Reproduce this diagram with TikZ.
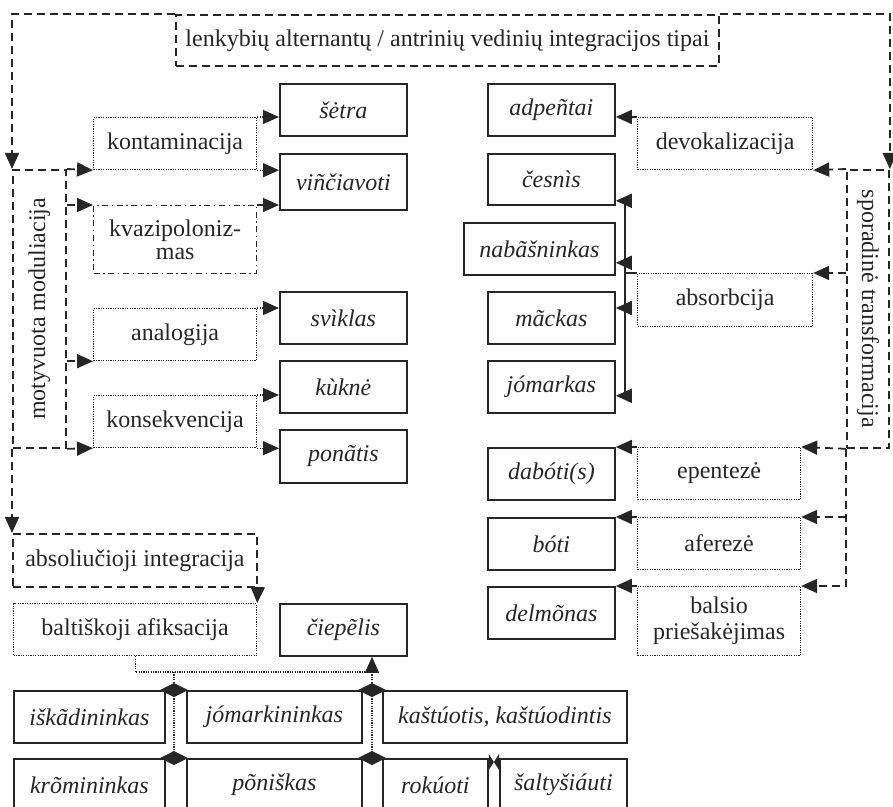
\documentclass[tikz,border=0pt,12pt]{standalone}
\usepackage{fontspec}
\setmainfont{Liberation Serif}
\usepackage{graphicx}
\usetikzlibrary{arrows.meta,shapes.geometric,calc}

\tikzset{
  dotbox/.style={line width=0.6pt, dash pattern=on 0.6pt off 0.6pt},
  dashbox/.style={line width=0.9pt, dash pattern=on 4pt off 2.5pt},
  ddot/.style={line width=0.7pt, dash pattern=on 3pt off 1.8pt on 0.7pt off 1.8pt},
  word/.style={draw, line width=0.9pt, anchor=north west, minimum width=63.5pt,
    minimum height=26pt, inner sep=1pt, font=\itshape},
  proc/.style={draw, dotbox, anchor=north west, minimum width=81.5pt,
    minimum height=26pt, inner sep=1pt, align=center},
  grp/.style={draw, dashbox, anchor=north west, inner sep=0pt},
  arr/.style={-{Triangle[length=8pt,width=7pt]}},
  dia/.style={diamond, fill=black!85, inner sep=0pt, outer sep=0pt,
    minimum width=14pt, minimum height=7pt},
}

\begin{document}
\begin{tikzpicture}[x=0.5pt, y=-0.5pt, black!85, line width=0.9pt]
  \useasboundingbox (0,0) rectangle (893,807);
  \clip (0,0) rectangle (893,807);

  \node[grp, minimum width=271.5pt, minimum height=25.5pt] (title) at (175,14)
    {lenkybių alternantų / antrinių vedinių integracijos tipai};

  % motyvuota moduliacija
  \node[grp, minimum width=26.5pt, minimum height=139pt] (motyv) at (12,169)
    {\rotatebox{90}{motyvuota moduliacija}};
  \node[proc] (kont) at (93,117) {kontaminacija};
  \node[proc, ddot, minimum height=34pt] (kvaz) at (93,205) {kvazipoloniz-\\[-3pt]mas};
  \node[proc] (anal) at (93,308) {analogija};
  \node[proc] (kons) at (93,395) {konsekvencija};
  \node[word] (setra) at (279,83) {šėtra};
  \node[word, minimum height=28pt] (vinc) at (279,153) {viñčiavoti};
  \node[word] (svik) at (279,291) {svìklas};
  \node[word] (kukn) at (279,360) {kùknė};
  \node[word, minimum height=26.5pt] (pona) at (279,429) {ponãtis};

  % absoliucioji integracija
  \node[grp, minimum width=122pt, minimum height=26.5pt] (absi) at (12,533) {absoliučioji integracija};
  \node[proc, minimum width=121.5pt] (balt) at (13,603) {baltiškoji afiksacija};
  \node[word] (ciep) at (279,603) {čiepẽlis};

  % sporadine transformacija
  \node[grp, minimum width=21pt, minimum height=139pt] (spor) at (846,169)
    {\rotatebox{-90}{sporadinė transformacija}};
  \node[word] (adpe) at (487,83) {adpeñtai};
  \node[proc, minimum width=87.5pt] (devo) at (637,117) {devokalizacija};
  \node[word, minimum height=25.5pt] (cesn) at (487,153) {česnìs};
  \node[word, minimum width=75.5pt] (naba) at (463,222) {nabãšninkas};
  \node[word] (mack) at (487,291) {mãckas};
  \node[word] (jmar) at (487,360) {jómarkas};
  \node[proc, minimum width=87.5pt, minimum height=26.5pt] (abso) at (637,273) {absorbcija};
  \node[word] (dabo) at (487,447) {dabóti(s)};
  \node[word] (boti) at (487,517) {bóti};
  \node[word] (delm) at (487,586) {delmõnas};
  \node[proc] (epen) at (637,447) {epentezė};
  \node[proc] (afer) at (637,517) {aferezė};
  \node[proc, minimum height=34.5pt] (bals) at (637,586) {balsio\\[-1.5pt]priešakėjimas};

  % bottom rows
  \node[word, minimum width=75.5pt] (iska) at (13,690) {iškãdininkas};
  \node[word, minimum width=87.5pt] (jomk) at (186,690) {jómarkininkas};
  \node[word, minimum width=122pt] (kast) at (382,690) {kaštúotis, kaštúodintis};
  \node[word, minimum width=75.5pt] (krom) at (13,758) {krõmininkas};
  \node[word, minimum width=87.5pt] (poni) at (186,758) {põniškas};
  \node[word, minimum width=52.5pt] (roku) at (382,758) {rokúoti};
  \node[word] (salt) at (499,758) {šaltyšiáuti};

  % from the title
  \draw[dashbox, arr] (title.north west) -| (motyv.north west);
  \draw[dashbox, arr] (title.north east) -| (spor.north east);

  % left side
  \draw[dashbox, arr] (motyv.north east) -- (kont.south west);
  \draw[dashbox, arr] (motyv.east |- kvaz.north west) -- (kvaz.north west);
  \draw[dashbox, arr] (motyv.east |- anal.south west) -- (anal.south west);
  \draw[dashbox, arr] (motyv.south east) -- (kons.south west);
  \draw[dashbox, arr] (motyv.south west) -- (absi.north west);
  \draw[dashbox, arr] (absi.south east) -- (balt.north east);

  \draw[dotbox, arr] (kont.north east) -- (setra.west |- kont.north east);
  \draw[dotbox, arr] (kont.south east) -- (vinc.west |- kont.south east);
  \draw[ddot, arr] (kvaz.north east) -- (vinc.west |- kvaz.north east);
  \draw[dotbox, arr] (anal.north east) -- (svik.west |- anal.north east);
  \draw[dotbox, arr] (kons.north east) -- (kukn.west |- kons.north east);
  \draw[dotbox, arr] (kons.south east) -- (pona.west |- kons.south east);

  % right side
  \draw[dashbox, arr] (spor.north west) -- (devo.south east);
  \draw[dashbox, arr] (spor.west |- abso.north east) -- (abso.north east);
  \draw[dashbox, arr] (spor.south west) -- (epen.north east);
  \draw[dashbox, arr] (spor.south west) |- (bals.north east);
  \draw[dashbox, arr] (spor.west |- afer.north east) -- (afer.north east);

  \draw[arr] (devo.north west) -- (adpe.east |- devo.north west);
  \draw[arr] (epen.north west) -- (dabo.north east);
  \draw[arr] (afer.north west) -- (boti.north east);
  \draw[arr] (bals.north west) -- (delm.north east);

  \coordinate (trunk) at (625,273);
  \draw (abso.north west) -- (trunk);
  \draw[arr] (trunk) |- ([yshift=2.5pt]cesn.south east);
  \draw[arr] (trunk) |- ([yshift=6.5pt]naba.south east);
  \draw[arr] (trunk) |- ([yshift=-8.5pt]mack.north east);
  \draw[arr] (trunk) |- ([yshift=9pt]jmar.south east);

  % afiksacija
  \coordinate (ja) at (174,672);
  \coordinate (jb) at (372,672);
  \draw[dotbox, arr] (balt.south) |- (jb) -- (jb |- ciep.south);
  \draw[dotbox] (ja) -- (ja |- krom.north);
  \draw[dotbox] (jb) -- (jb |- roku.north);
  \node[dia] (d1) at (ja |- iska.north) {};
  \node[dia] (d2) at (jb |- kast.north) {};
  \node[dia] (d3) at (ja |- krom.north) {};
  \node[dia] (d4) at (jb |- roku.north) {};
  \coordinate (bt) at ($(roku.north east)!0.5!(salt.north west)$);
  \fill ([yshift=2pt]roku.north east) -- ([yshift=-6pt]roku.north east)
    -- ([yshift=-2pt]bt) -- cycle;
  \fill ([yshift=2pt]salt.north west) -- ([yshift=-6pt]salt.north west)
    -- ([yshift=-2pt]bt) -- cycle;

\end{tikzpicture}
\end{document}
